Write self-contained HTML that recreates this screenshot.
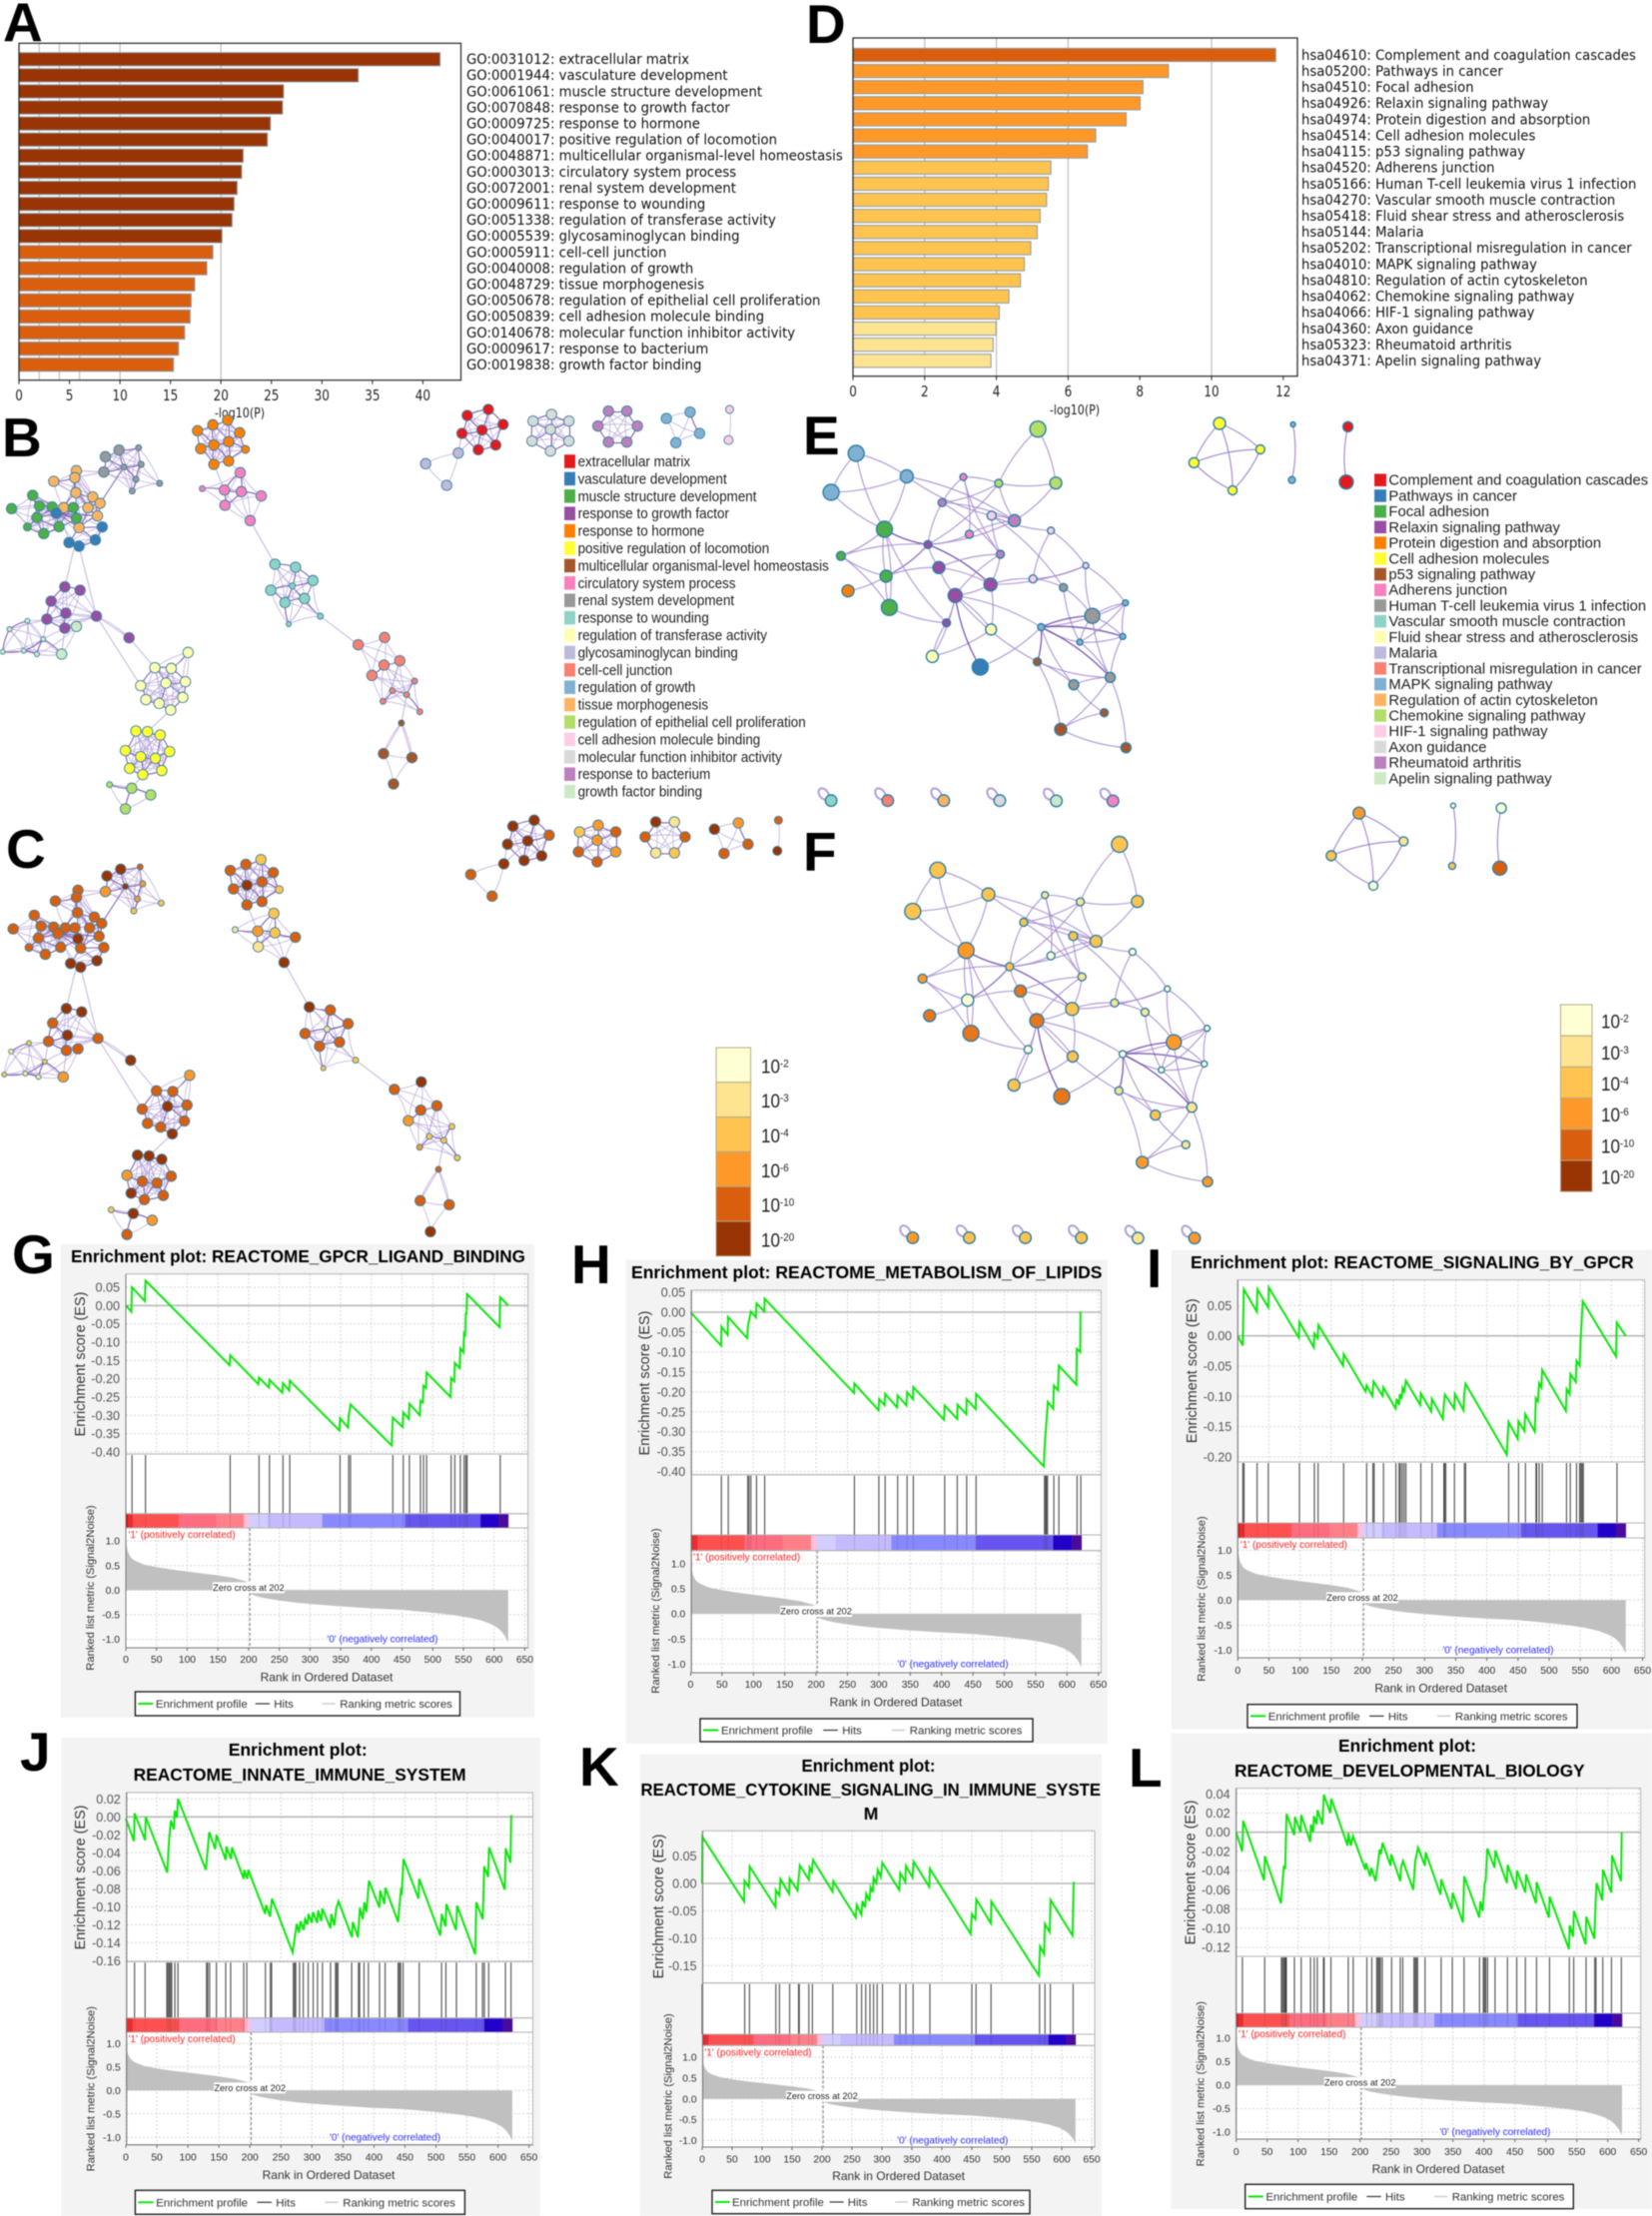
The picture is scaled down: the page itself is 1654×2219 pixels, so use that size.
<!DOCTYPE html>
<html lang="en">
<head>
<meta charset="utf-8">
<title>Enrichment analysis figure</title>
<style>
html,body{margin:0;padding:0;background:#fff;}
svg{display:block;filter:blur(.45px);}
text{font-family:"Liberation Sans",sans-serif;}
.letter{font-size:55px;font-weight:700;fill:#000;}
.gtitle{font-size:17.5px;font-weight:700;fill:#000;}
</style>
</head>
<body>
<svg id="fig" xmlns="http://www.w3.org/2000/svg" width="1654" height="2219" viewBox="0 0 1654 2219">
<rect x="0" y="0" width="1654" height="2219" fill="#fff"/>
<g id="under"></g>
<g id="charts"></g>
<g>
<text class="letter" x="3" y="41">A</text>
<text class="letter" x="807" y="43">D</text>
<text class="letter" x="2" y="457">B</text>
<text class="letter" x="804" y="455">E</text>
<text class="letter" x="6" y="869">C</text>
<text class="letter" x="804" y="872">F</text>
<text class="letter" x="12" y="1275">G</text>
<text class="letter" x="572" y="1285">H</text>
<text class="letter" x="1148" y="1289">I</text>
<text class="letter" x="20" y="1773">J</text>
<text class="letter" x="580" y="1788">K</text>
<text class="letter" x="1130" y="1789">L</text>
</g>
<g>
<text class="gtitle" x="71" y="1264" textLength="455" lengthAdjust="spacingAndGlyphs">Enrichment plot: REACTOME_GPCR_LIGAND_BINDING</text>
<text class="gtitle" x="632" y="1280" textLength="471.5" lengthAdjust="spacingAndGlyphs">Enrichment plot: REACTOME_METABOLISM_OF_LIPIDS</text>
<text class="gtitle" x="1192" y="1270" textLength="443.7" lengthAdjust="spacingAndGlyphs">Enrichment plot: REACTOME_SIGNALING_BY_GPCR</text>
<text class="gtitle" x="228.7" y="1758" textLength="139" lengthAdjust="spacingAndGlyphs">Enrichment plot:</text>
<text class="gtitle" x="133.6" y="1783" textLength="333" lengthAdjust="spacingAndGlyphs">REACTOME_INNATE_IMMUNE_SYSTEM</text>
<text class="gtitle" x="802.5" y="1774" textLength="134" lengthAdjust="spacingAndGlyphs">Enrichment plot:</text>
<text class="gtitle" x="641.5" y="1798" textLength="460.5" lengthAdjust="spacingAndGlyphs">REACTOME_CYTOKINE_SIGNALING_IN_IMMUNE_SYSTE</text>
<text class="gtitle" x="872" y="1822" text-anchor="middle">M</text>
<text class="gtitle" x="1340" y="1754" textLength="138" lengthAdjust="spacingAndGlyphs">Enrichment plot:</text>
<text class="gtitle" x="1236" y="1779" textLength="350.7" lengthAdjust="spacingAndGlyphs">REACTOME_DEVELOPMENTAL_BIOLOGY</text>
</g>
</svg>
<script>
/* ---------- bar chart data ---------- */
const goIds=["GO:0031012","GO:0001944","GO:0061061","GO:0070848","GO:0009725","GO:0040017","GO:0048871","GO:0003013","GO:0072001","GO:0009611","GO:0051338","GO:0005539","GO:0005911","GO:0040008","GO:0048729","GO:0050678","GO:0050839","GO:0140678","GO:0009617","GO:0019838"];
const goTerms=["extracellular matrix","vasculature development","muscle structure development","response to growth factor","response to hormone","positive regulation of locomotion","multicellular organismal-level homeostasis","circulatory system process","renal system development","response to wounding","regulation of transferase activity","glycosaminoglycan binding","cell-cell junction","regulation of growth","tissue morphogenesis","regulation of epithelial cell proliferation","cell adhesion molecule binding","molecular function inhibitor activity","response to bacterium","growth factor binding"];
const goScores=[41.7,33.6,26.2,26.1,24.9,24.6,22.2,22.05,21.6,21.3,21.1,20.1,19.2,18.6,17.4,17.05,16.95,16.4,15.8,15.3];
const goTicks=[0,5,10,15,20,25,30,35,40];
const keggIds=["hsa04610","hsa05200","hsa04510","hsa04926","hsa04974","hsa04514","hsa04115","hsa04520","hsa05166","hsa04270","hsa05418","hsa05144","hsa05202","hsa04010","hsa04810","hsa04062","hsa04066","hsa04360","hsa05323","hsa04371"];
const keggTerms=["Complement and coagulation cascades","Pathways in cancer","Focal adhesion","Relaxin signaling pathway","Protein digestion and absorption","Cell adhesion molecules","p53 signaling pathway","Adherens junction","Human T-cell leukemia virus 1 infection","Vascular smooth muscle contraction","Fluid shear stress and atherosclerosis","Malaria","Transcriptional misregulation in cancer","MAPK signaling pathway","Regulation of actin cytoskeleton","Chemokine signaling pathway","HIF-1 signaling pathway","Axon guidance","Rheumatoid arthritis","Apelin signaling pathway"];
const keggScores=[11.79,8.8,8.09,8.01,7.62,6.77,6.54,5.52,5.45,5.4,5.22,5.14,4.96,4.78,4.67,4.35,4.08,3.99,3.91,3.85];
const keggTicks=[0,2,4,6,8,10,12];
const pThresholds=[2,4,6,10,20];
const scaleLabels=["-2","-3","-4","-6","-10","-20"];

/* ---------- GSEA data: [rank, enrichment score] ---------- */
const esG=[[0,0],[9,-.017],[10,.05],[31,.012],[32,.068],[169,-.163],[170,-.136],[216,-.215],[217,-.197],[233,-.224],[234,-.203],[255,-.238],[256,-.212],[266,-.232],[267,-.205],[348,-.341],[349,-.308],[362,-.333],[363,-.303],[366,-.27],[433,-.382],[435,-.306],[451,-.332],[452,-.292],[461,-.31],[462,-.268],[479,-.30],[480,-.26],[484,-.265],[485,-.219],[489,-.225],[490,-.183],[529,-.25],[530,-.198],[535,-.207],[536,-.157],[544,-.171],[545,-.117],[550,-.128],[551,-.076],[553,-.08],[554,-.02],[555,-.025],[556,.031],[609,-.059],[610,.023],[623,0]];
const hitsG=[10,32,170,217,234,256,267,349,363,366,435,452,462,480,485,490,530,536,545,551,554,556,610];
const esH=[[0,0],[48.5,-.084],[49,-.036],[59,-.057],[59.5,-.012],[90,-.065],[91.5,-.032],[96,.002],[104,-.013],[105,.022],[117.5,.002],[118,.034],[260.5,-.203],[261,-.179],[299.5,-.246],[300.5,-.218],[309,-.233],[310,-.205],[329,-.239],[330,-.209],[344,-.234],[345,-.201],[354.5,-.218],[355,-.188],[404,-.27],[405,-.234],[425,-.268],[425.5,-.232],[439.5,-.256],[440,-.218],[454.5,-.243],[455,-.205],[563,-.387],[564.5,-.332],[567,-.278],[569.5,-.225],[578,-.242],[579,-.184],[585.6,-.196],[587,-.134],[615,-.182],[615.6,-.092],[621,-.1],[621.5,.002]];
const hitsH=[49,60,91,93,96,105,118,261,300,310,330,345,355,405,425,440,455,564,566,567,569,579,587,616,622];
const esI=[[0,0],[8,-.016],[9.6,.077],[30.5,.04],[31.5,.077],[49,.047],[49.7,.08],[98,-.003],[99,.023],[122,-.019],[123,.004],[128.3,-.004],[129.4,.018],[169,-.049],[170,-.03],[205.3,-.092],[207,-.082],[216,-.099],[218,-.075],[232.6,-.099],[233.7,-.085],[253.5,-.12],[255,-.104],[259,-.114],[260.4,-.096],[263,-.104],[264.7,-.086],[267.4,-.092],[270,-.074],[293,-.114],[294,-.095],[310.7,-.125],[311.8,-.104],[329.4,-.137],[331,-.114],[332.6,-.097],[347.6,-.12],[348.7,-.096],[362.6,-.123],[363.6,-.097],[365.8,-.079],[432,-.196],[434.8,-.142],[449.7,-.17],[450.8,-.141],[460.4,-.157],[461.5,-.129],[477,-.158],[478.6,-.103],[482,-.108],[484,-.078],[487.7,-.085],[488.8,-.056],[527,-.124],[528.3,-.088],[533,-.096],[534.2,-.063],[542.8,-.076],[543.9,-.041],[549,-.049],[550.3,-.012],[552,.018],[554,.057],[607.5,-.034],[608.6,.022],[623,0]];
const hitsI=[8,10,31,49,99,123,129,170,207,217,219,234,254,259,261,264,267,270,294,312,331,332,334,348,364,366,435,451,462,479,480,484,489,528,534,544,549,551,553,555,609];
const esJ=[[0,-.002],[13,-.027],[14,.004],[31,-.026],[32,0],[66.6,-.062],[69.6,-.027],[72.7,-.004],[77.5,-.014],[78.7,.007],[82.4,-.001],[84,.02],[129,-.059],[134.5,-.017],[144,-.036],[146,-.02],[161,-.048],[162,-.033],[169.6,-.047],[171,-.034],[190,-.069],[191,-.059],[195.6,-.069],[197.5,-.059],[224.7,-.108],[226,-.098],[232.6,-.111],[235.6,-.091],[269,-.151],[272,-.136],[275.6,-.119],[279,-.129],[281.6,-.116],[286.5,-.126],[289,-.114],[292.6,-.12],[294.4,-.108],[299.8,-.118],[301.6,-.106],[308.3,-.118],[310,-.104],[315,-.116],[316.8,-.102],[330,-.124],[331.3,-.108],[336,-.121],[339,-.103],[342.8,-.094],[364.6,-.134],[365.8,-.117],[374.3,-.134],[377.3,-.101],[382,-.114],[384.6,-.095],[388,-.106],[392,-.071],[408.8,-.101],[410,-.082],[416.7,-.097],[418.5,-.079],[439,-.117],[441,-.099],[443.4,-.082],[445,-.084],[447.6,-.047],[471.8,-.091],[473,-.069],[507,-.132],[509.4,-.108],[515.4,-.122],[516.7,-.097],[532.4,-.126],[534.2,-.099],[563.3,-.153],[565,-.095],[575.4,-.114],[576.6,-.084],[577.8,-.055],[584,-.067],[585.7,-.034],[611,-.081],[612.4,-.035],[620.2,-.051],[621.4,.002]];
const hitsJ=[14,31,66,68,70,72,74,79,84,130,132,135,146,161,169,190,195,225,233,235,270,272,274,280,286,294,302,309,317,330,338,340,342,364,375,377,384,391,409,418,439,441,443,447,473,509,516,533,565,575,578,585,612,621];
const esK=[[0,0],[0.5,.085],[70,-.033],[70.6,.005],[78,-.007],[79.4,.031],[122.5,-.043],[123,-.012],[128.8,-.022],[130.6,.008],[145,-.019],[146,.009],[159.4,-.013],[160.6,.005],[163,.033],[178,.007],[179.4,.029],[183,.021],[185,.043],[217.5,-.015],[218.8,.004],[256.3,-.062],[258,-.039],[265.6,-.057],[267.5,-.032],[271.9,-.044],[273.8,-.019],[279.4,-.032],[281,-.007],[285,-.016],[286,.01],[290.6,.001],[293,.025],[298,.012],[300.6,.038],[328.8,-.012],[330.6,.019],[339,.003],[340,.032],[351,.011],[353,.04],[378.8,-.006],[380,.027],[448,-.092],[450,-.056],[456,-.065],[457.5,-.029],[481.9,-.073],[482.5,-.033],[561.9,-.168],[563.8,-.115],[570.6,-.129],[571.9,-.074],[580,-.089],[581.3,-.03],[618,-.095],[620,.003]];
const hitsK=[0,71,79,123,129,146,161,162,178,184,218,258,266,273,280,286,292,301,330,340,352,380,450,457,482,563,572,581,619];
const esL=[[0,0],[9.7,-.02],[11.3,.012],[45,-.05],[46.3,-.025],[72.2,-.074],[74.9,-.052],[77,-.036],[79.2,-.037],[81.3,.019],[93.7,-.003],[94.8,.016],[104,0],[105,.018],[119.5,-.01],[120.6,.008],[124.4,0],[125.5,.017],[129.8,.008],[131.4,.023],[139,.008],[141.6,.039],[151.9,.02],[153.5,.035],[179.9,-.014],[180.9,-.001],[185.2,-.014],[188.5,-.004],[208.4,-.039],[209.5,-.032],[216.5,-.046],[218,-.037],[225,-.051],[228.9,-.033],[231.6,-.018],[233.7,-.023],[236.4,-.011],[249.3,-.035],[250.4,-.023],[265,-.051],[266,-.038],[269.3,-.03],[286,-.06],[289.2,-.03],[293.5,-.016],[304.8,-.035],[305.9,-.021],[330,-.065],[331.2,-.049],[347.9,-.08],[349.5,-.063],[366.2,-.094],[368.3,-.046],[392.6,-.089],[394.2,-.072],[398,-.082],[401.2,-.054],[403,-.05],[405.5,-.017],[417.3,-.037],[418.4,-.019],[437.3,-.053],[438.3,-.034],[452.3,-.059],[453.4,-.04],[466.9,-.063],[468,-.044],[484,-.074],[485.2,-.052],[505,-.089],[506.2,-.067],[537.4,-.122],[538.5,-.097],[543.9,-.109],[545.5,-.082],[564.3,-.117],[565.4,-.088],[578.4,-.111],[580,-.08],[582,-.053],[591.3,-.071],[592.3,-.039],[605.8,-.063],[606.9,-.024],[621.4,-.051],[622.5,0]];
const hitsL=[10,46,73,75,77,79,80,81,94,105,120,126,131,141,142,153,181,189,211,219,227,229,231,233,236,251,265,269,287,289,291,293,305,331,349,368,393,399,401,403,406,418,438,453,467,485,506,538,545,565,579,581,592,606,622];

const esTicksG=[.05,0,-.05,-.1,-.15,-.2,-.25,-.3,-.35,-.4];
const esTicksH=[.05,0,-.05,-.1,-.15,-.2,-.25,-.3,-.35,-.4];
const esTicksI=[.05,0,-.05,-.1,-.15,-.2];
const esTicksJ=[.02,0,-.02,-.04,-.06,-.08,-.1,-.12,-.14,-.16];
const esTicksK=[.05,0,-.05,-.1,-.15];
const esTicksL=[.04,.02,0,-.02,-.04,-.06,-.08,-.1,-.12];
const rankTicks=[0,50,100,150,200,250,300,350,400,450,500,550,600,650];
const metricTicks=[1,.5,0,-.5,-1];
const metricRanks=[0,1,2,4,7,10,15,20,30,50,75,100,125,150,175,198,203,215,230,250,275,300,350,400,450,500,530,560,580,595,605,612,618,623];
const metricValues=[1.05,.95,.85,.76,.69,.64,.6,.57,.52,.47,.42,.38,.34,.3,.25,.17,-.08,-.13,-.17,-.21,-.25,-.28,-.33,-.37,-.4,-.46,-.5,-.56,-.62,-.69,-.76,-.84,-.94,-1.07];
const barEdges=[0,3,11,86,147,192,201,231,320,455,578,607,623];
const barColors=["#d40a10","#f02a30","#ff5050","#ff6c80","#ff8088","#ffc0dc","#d2ceff","#c4baff","#8888ff","#6655ee","#2200cc","#4a0aa0"];

/* ---------- network layouts (zoom-space layout coordinates, per legend colour) ---------- */
const goColors=["#e41a1c","#377eb8","#4daf4a","#984ea3","#ff7f00","#ffff33","#a65628","#f781bf","#999999","#8dd3c7","#ffffb3","#bebada","#fb8072","#80b1d3","#fdb462","#b3de69","#fccde5","#d9d9d9","#bc80bd","#ccebc5"];
const heatColors=["#ffffd4","#fee391","#fec44f","#fe9929","#d95f0e","#993404"];
const netGroups=[
 {c:8,cls:"5543533222",n:[[226,122],[200,142],[263,115,3],[197,188],[235,173,3],[268,165,3],[258,210,3],[251,245,3],[303,222,3]]},
 {c:14,cls:"4444444444",n:[[145,184],[142,205],[102,216],[144,250],[176,263],[190,282],[121,295],[167,295],[185,320],[150,355]]},
 {c:2,cls:"4444445444",n:[[62,258],[22,298],[75,290],[99,293],[139,295],[70,325],[145,327],[112,352],[52,353,4],[83,373]]},
 {c:1,cls:"44555",n:[[107,312],[194,353],[181,392],[131,400],[150,411]]},
 {c:3,cls:"55454445",n:[[123,533],[152,543],[97,576],[125,612],[183,621],[89,630],[123,657],[245,686]]},
 {c:19,cls:"43122112",n:[[145,652],[117,735],[18,660,2.5],[52,635,2.5],[5,728,2.5],[45,725,2.5],[70,735,2.5],[82,690,2.5]]},
 {c:10,cls:"3444544445",n:[[357,730],[294,776],[325,778],[267,830],[315,822],[352,818],[347,865],[277,872],[302,883],[324,903]]},
 {c:5,cls:"5553444544",n:[[258,966],[280,968],[304,978],[238,1025],[322,1028],[267,1043],[295,1048],[246,1078],[307,1085],[271,1097]]},
 {c:15,cls:"2534",n:[[208,1127,3],[250,1138],[286,1158],[238,1200]]},
 {c:4,cls:"4244454244",n:[[404,46],[432,32],[375,64],[455,70],[434,97],[406,107],[381,118],[466,120,4],[406,165],[434,155]]},
 {c:7,cls:"2324511",n:[[456,190],[426,242],[458,247],[496,260],[475,334],[427,288],[384,238,3]]},
 {c:9,cls:"544444221",n:[[522,465],[561,474],[594,514],[514,543],[578,568],[541,580],[548,645,2.5],[608,621,3],[555,530,3]]},
 {c:12,cls:"4544322322",n:[[680,707],[730,685],[759,755],[729,768],[706,799],[787,816,3],[772,857,3],[727,877,3],[797,908,3],[745,845,3]]},
 {c:6,cls:"4445",n:[[762,942,3],[728,1034],[782,1046],[747,1125]]},
 {c:0,cls:"5545555",n:[[887,18],[927,0],[955,45],[877,72],[915,62],[941,107],[908,121]]},
 {c:11,cls:"544",n:[[870,131],[808,163],[848,228]]},
 {c:17,cls:"2334434",n:[[1012,35],[1047,15],[1045,60],[1080,35],[1010,95],[1080,95],[1045,125]]},
 {c:18,cls:"514412",n:[[1155,5],[1190,5],[1135,50],[1210,50],[1155,98],[1190,98]]},
 {c:13,cls:"5344",n:[[1265,27],[1310,8],[1328,72],[1283,100]]},
 {c:16,cls:"45",n:[[1385,0,4],[1383,92,4.5]]}
];
const netBridges=[[[190,282],[235,173]],[[145,327],[150,355]],[[139,295],[145,327]],[[121,295],[107,312]],[[107,312],[185,320]],[[107,312],[150,355]],[[150,355],[131,400]],[[150,355],[194,353]],[[150,355],[181,392]],[[107,312],[145,327]],[[70,325],[107,312]],[[144,250],[145,327]],[[140,420],[123,533]],[[150,411],[183,621]],[[183,621],[245,686]],[[245,686],[294,776]],[[183,621],[267,830]],[[324,903],[280,968]],[[271,1097],[250,1138]],[[406,165],[426,242]],[[434,155],[456,190]],[[475,334],[522,465]],[[608,621],[680,707]],[[772,857],[762,942]],[[762,942],[728,1034]],[[762,942],[782,1046]],[[89,630],[18,660]],[[89,630],[82,690]],[[123,657],[117,735]],[[125,612],[183,621]],[[183,621],[123,657]],[[197,188],[142,205]],[[145,184],[197,188]],[[870,131],[915,62]],[[870,131],[877,72]]];

const keggNodes=[[105,132,13,8],[198,201,13,6.5],[59,249,13,8],[439,59,15,8],[472,221,15,6],[367,222,15,4],[302,203,7,3.5],[263,280,18,4],[396,334,18,6],[354,319,16,4.5],[313,375,7,4],[463,364,16,3.5],[157,360,2,8],[77,440,2,4.5],[160,501,2,6],[166,595,2,8],[237,406,3,4],[370,435,18,4],[257,475,3,6],[352,526,3,6.5],[287,559,3,7],[271,641,3,4],[430,509,16,4],[527,469,16,3],[486,535,8,4],[90,545,4,6],[353,661,10,5.5],[245,742,10,6],[333,774,1,8],[445,654,13,3.5],[539,620,8,7.5],[600,581,13,3],[516,699,13,3],[595,682,13,3],[438,758,6,4],[505,827,8,5],[572,805,8,5],[561,911,6,4],[481,961,6,6],[601,1016,6,5]];
const keggHeatF=[2,2,2,2,2,1,1,2,2,2,0,0,3,3,0,4,2,1,4,2,4,0,1,0,1,4,2,2,4,0,3,0,0,0,1,2,1,1,3,3];
const keggEdges=[[0,1],[0,2],[1,2],[0,12],[1,12],[2,12],[1,8],[1,9],[3,4],[3,5],[4,5],[5,6],[5,7],[5,8],[4,8],[6,7],[6,10],[6,17],[7,8],[7,16],[7,17],[8,9],[8,16],[9,11],[10,16],[8,10],[5,16],[9,17],[16,12],[16,13],[16,14],[16,18],[16,19],[17,18],[18,19],[17,20],[17,19],[18,20],[20,21],[20,19],[12,13],[12,14],[12,15],[13,14],[13,15],[14,15],[14,25],[14,16],[14,18],[12,21],[21,15],[21,27],[26,27],[26,20],[19,26],[27,20],[20,29],[22,23],[19,22],[19,23],[22,24],[24,9],[11,23],[11,22],[23,31],[23,30],[24,30],[24,32],[29,30],[29,31],[29,33],[29,32],[30,31],[30,32],[30,33],[31,33],[31,32],[32,33],[29,34],[29,35],[29,36],[30,36],[32,36],[33,36],[34,35],[34,36],[35,36],[35,37],[34,38],[37,38],[36,38],[38,39],[36,39],[28,29],[28,20],[20,34]];
const keggExtraNodes=[[773,42,5,6,3],[848,120,5,4.5,1],[726,160,5,5,2],[797,243,5,4.5,0],[908,45,13,2.5,0],[906,212,13,3.5,2],[1009,52,0,5,0],[1006,218,0,7,4]];
const keggExtraEdges=[[0,1],[0,2],[0,3],[1,2],[1,3],[2,3],[4,5],[6,7]];
const keggLoops=[[59,1175,9,3],[163,1175,12,2],[266,1175,14,2],[369,1175,17,2],[473,1176,19,1],[577,1176,7,3]];

/* ---------- helpers ---------- */
const NS="http://www.w3.org/2000/svg";
const root=document.getElementById('charts');
function el(parent,tag,attrs,txt){
  const e=document.createElementNS(NS,tag);
  for(const k in attrs)e.setAttribute(k,attrs[k]);
  if(txt!==undefined)e.textContent=txt;
  parent.appendChild(e);
  return e;
}
function binColor(v){
  return v>=20?heatColors[5]:v>=10?heatColors[4]:v>=6?heatColors[3]:v>=4?heatColors[2]:v>=3?heatColors[1]:heatColors[0];
}
function fmt2(v){return (v===0?"0.00":v.toFixed(2));}

/* ---------- panels A & D ---------- */
function drawBars(key,ids,terms,scores,ticks,L){
  const g=el(root,'g',{});
  
  
  const x=v=>L.x0+v*L.k;
  const y=i=>L.y0+i*L.step;
  const plot=el(g,'rect',{x:L.x0,y:L.top,width:L.x1-L.x0,height:L.bottom-L.top,fill:'#fff'});
  
  
  pThresholds.forEach(t=>{
    if(x(t)>L.x1)return;
    const gl=el(g,'line',{x1:x(t),x2:x(t),y1:L.top,y2:L.bottom,stroke:'#bdbdbd','stroke-width':1.2});
    
    
  });
  scores.forEach((v,i)=>{
    const b=el(g,'rect',{x:x(0),y:y(i)-6.6,width:x(v)-x(0),height:13.2,fill:binColor(v),stroke:'#8a9aa8','stroke-width':1});
    
    
    const t=el(g,'text',{transform:`translate(${L.labelX},${y(i)+4.8}) scale(${L.labelScale},1)`,'font-size':14,style:'font-family:"DejaVu Sans",sans-serif',fill:'#111'},ids[i]+': '+terms[i]);
    
    
  });
  const fr=el(g,'rect',{x:L.x0,y:L.top,width:L.x1-L.x0,height:L.bottom-L.top,fill:'none',stroke:'#222','stroke-width':1.2});
  
  
  ticks.forEach(v=>{
    const m=el(g,'line',{x1:x(v),x2:x(v),y1:L.bottom,y2:L.bottom+4,stroke:'#222'});
    
    
    const t=el(g,'text',{transform:`translate(${x(v)},${L.tickY}) scale(.8,1)`,'text-anchor':'middle','font-size':15,style:'font-family:"DejaVu Sans",sans-serif',fill:'#222'},String(v));
    
    
  });
  const xl=el(g,'text',{transform:`translate(${L.titleX},${L.titleY}) scale(.82,1)`,'text-anchor':'middle','font-size':13.5,style:'font-family:"DejaVu Sans",sans-serif',fill:'#222'},'-log10(P)');
  
  
}
drawBars('go',goIds,goTerms,goScores,goTicks,{x0:19,x1:461.5,top:43.3,bottom:380.7,k:10.11,y0:59.3,step:16.1,labelX:467,labelScale:.948,tickY:401,titleX:240,titleY:418});
drawBars('kegg',keggIds,keggTerms,keggScores,keggTicks,{x0:854,x1:1299,top:38,bottom:376.7,k:35.9,y0:55,step:16.12,labelX:1303,labelScale:.945,tickY:397,titleX:1076,titleY:415});

/* ---------- category legends ---------- */
function drawLegend(key,terms,L){
  const g=el(root,'g',{});
  
  
  terms.forEach((t,i)=>{
    const y=L.y0+i*L.step;
    const s=el(g,'rect',{x:L.sx,y:y-L.sh/2,width:L.sw,height:L.sh,fill:goColors[i]});
    
    
    const x=el(g,'text',{transform:`translate(${L.tx},${y+5}) scale(${L.scale},1)`,'font-size':15,fill:'#222'},t);
    
    
  });
}
drawLegend('go',goTerms,{sx:565,sw:11,sh:13.5,tx:578.6,y0:462,step:17.4,scale:.895});
drawLegend('kegg',keggTerms,{sx:1376,sw:12,sh:12.5,tx:1390.4,y0:480.7,step:15.72,scale:.99});

/* ---------- colour scale legends ---------- */
function drawScale(key,L){
  const g=el(root,'g',{});
  
  
  heatColors.forEach((c,i)=>{
    const r=el(g,'rect',{x:L.x,y:L.y+i*L.h,width:L.w,height:L.h,fill:c,stroke:'#b5a98a','stroke-width':1});
    
    
    const t=el(g,'text',{transform:`translate(${L.tx},${L.y+i*L.h+L.h/2+8}) scale(.9,1)`,'font-size':19,fill:'#222'});
    
    
    el(t,'tspan',{},'10');
    el(t,'tspan',{dy:-6,'font-size':11},scaleLabels[i]);
  });
}
drawScale('go',{x:717,y:1049,w:34.6,h:34.8,tx:762});
drawScale('kegg',{x:1562.5,y:1006,w:31.5,h:31.2,tx:1603});

/* ---------- networks ---------- */
function edgePath(a,b,i){
  const mx=(a[0]+b[0])/2,my=(a[1]+b[1])/2,dx=b[0]-a[0],dy=b[1]-a[1];
  const s=(i%2?1:-1)*0.1;
  return `M${a[0]} ${a[1]}Q${mx-dy*s} ${my+dx*s} ${b[0]} ${b[1]}`;
}
function drawGoNetwork(key,mapPt,colorOf){
  const g=el(root,'g',{});
  
  
  let idx=0;
  netGroups.forEach(gr=>{
    for(let i=0;i<gr.n.length;i++)for(let j=i+1;j<gr.n.length;j++){
      const a=mapPt(gr.n[i]),b=mapPt(gr.n[j]);
      const d=Math.hypot(a[0]-b[0],a[1]-b[1]);
      if(d<50){
        const e=el(g,'path',{d:edgePath(a,b,idx++),fill:'none',stroke:d<24?'#6c46a8':'#b8a6da','stroke-width':d<24?1.2:.9,'stroke-opacity':.8});
        
        
      }
    }
  });
  netBridges.forEach((p,i)=>{
    const e=el(g,'line',{x1:mapPt(p[0])[0],y1:mapPt(p[0])[1],x2:mapPt(p[1])[0],y2:mapPt(p[1])[1],stroke:i<12?'#6c46a8':'#b8a6da','stroke-width':1,'stroke-opacity':.85});
    
    
  });
  netGroups.forEach(gr=>{
    gr.n.forEach((n,i)=>{
      const p=mapPt(n);
      const c=el(g,'circle',{cx:p[0],cy:p[1],r:n[2]||5.2,fill:colorOf(gr,i),stroke:'#3d7f9f','stroke-width':.9});
      
      
    });
  });
}
const mapB=p=>[p[0]/1.896,410+p[1]/3];
const mapC=p=>{
  let x,y;
  if(p[0]<370){x=p[0]+3;y=p[1]*1.018+27;}
  else if(p[0]<=800){x=p[0]*1.0215+54;y=p[1]*1.0226+89.6;}
  else{x=p[0]*1.012+76;y=p[1]+4;}
  return [x/1.896,820+y/3];
};
drawGoNetwork('go-cluster',mapB,(gr)=>goColors[gr.c]);
drawGoNetwork('go-pvalue',mapC,(gr,i)=>heatColors[+gr.cls[i%gr.cls.length]]);

function drawKeggNetwork(key,mapPt,colorOf,colorExtra,colorLoop){
  const g=el(root,'g',{});
  
  
  keggEdges.forEach((e,i)=>{
    const a=mapPt(keggNodes[e[0]]),b=mapPt(keggNodes[e[1]]);
    const dark=(e[0]===16||e[0]===29||e[1]===20)&&i%2===0;
    const p=el(g,'path',{d:edgePath(a,b,i),fill:'none',stroke:dark?'#6c46a8':'#a48cce','stroke-width':dark?1.4:1.2,'stroke-opacity':.85});
    
    
  });
  keggExtraEdges.forEach((e,i)=>{
    const a=mapPt(keggExtraNodes[e[0]]),b=mapPt(keggExtraNodes[e[1]]);
    const p=el(g,'path',{d:edgePath(a,b,i),fill:'none',stroke:'#a48cce','stroke-width':1.2});
    
    
  });
  keggNodes.forEach((n,i)=>{
    const p=mapPt(n);
    const c=el(g,'circle',{cx:p[0],cy:p[1],r:n[3],fill:colorOf(n,i),stroke:'#2f7ea8','stroke-width':1.4});
    
    
  });
  keggExtraNodes.forEach((n)=>{
    const p=mapPt(n);
    const c=el(g,'circle',{cx:p[0],cy:p[1],r:n[3],fill:colorExtra(n),stroke:'#2f7ea8','stroke-width':1.4});
    
    
  });
  keggLoops.forEach((n)=>{
    const p=mapPt(n);
    const l=el(g,'path',{d:`M${p[0]-2} ${p[1]-5}C${p[0]-5} ${p[1]-15} ${p[0]-15} ${p[1]-14} ${p[0]-12} ${p[1]-6}C${p[0]-11} ${p[1]-3} ${p[0]-8} ${p[1]-1} ${p[0]-5} ${p[1]-1}`,fill:'none',stroke:'#b29fd6','stroke-width':2});
    
    
    const c=el(g,'circle',{cx:p[0],cy:p[1],r:5.8,fill:colorLoop(n),stroke:'#2f7ea8','stroke-width':1.4});
    
    
  });
}
const mapE=p=>[800+p[0]/1.836,410+p[1]/3];
const mapF=p=>{
  let x,y;
  if(p[0]<700){x=p[0]+150;y=p[1]*1.059+104;}
  else if(p[0]<900){x=p[0]*1.09+187;y=p[1]*1.085+27;}
  else{x=p[0]*.876+407;y=p[1]*1.087+1;}
  return [800+x/1.836,790+y/3];
};
drawKeggNetwork('kegg-cluster',mapE,n=>goColors[n[2]],n=>goColors[n[2]],n=>goColors[n[2]]);
drawKeggNetwork('kegg-pvalue',mapF,(n,i)=>keggHeatF[i]===4?'#e8761a':heatColors[keggHeatF[i]],n=>n[4]===4?'#d95f0e':heatColors[n[4]],n=>heatColors[n[3]]);

/* ---------- GSEA panels ---------- */
function drawGsea(key,es,hits,esTicks,metricLabels,L){
  const under=document.getElementById('under');
  const bg=el(under,'rect',{x:L.bg[0],y:L.bg[1],width:L.bg[2]-L.bg[0],height:L.bg[3]-L.bg[1],fill:'#f3f3f3'});
  
  
  const g=el(root,'g',{});
  
  
  const x=r=>L.xZero+r*L.xPer;
  const yE=v=>L.es0-v*L.esK;
  const yM=v=>L.m0-v*L.mK;
  const pl=el(g,'rect',{x:L.x0,y:L.top,width:L.x1-L.x0,height:L.bottom-L.top,fill:'#fff'});
  
  
  rankTicks.forEach(r=>{
    [[L.top,L.esBottom],[L.barBottom,L.bottom]].forEach(span=>{
      const gl=el(g,'line',{x1:x(r),x2:x(r),y1:span[0],y2:span[1],stroke:'#d4d4d4','stroke-width':1,'stroke-dasharray':'2 2'});
      
      
    });
    const m=el(g,'line',{x1:x(r),x2:x(r),y1:L.bottom,y2:L.bottom+3,stroke:'#666'});
    
    
    const t=el(g,'text',{x:x(r),y:L.tickY+3.5,'text-anchor':'middle','font-size':10.3,fill:'#333'},String(r));
    
    
  });
  esTicks.forEach(v=>{
    const gl=el(g,'line',{x1:L.x0,x2:L.x1,y1:yE(v),y2:yE(v),stroke:v===0?'#b8b8b8':'#d4d4d4','stroke-width':v===0?1.6:1,'stroke-dasharray':v===0?'none':'2 2'});
    
    
    const t=el(g,'text',{x:L.x0-6,y:yE(v)+4.5,'text-anchor':'end','font-size':12.6,fill:'#555'},fmt2(v));
    
    
  });
  metricLabels.forEach(v=>{
    const gl=el(g,'line',{x1:L.x0,x2:L.x1,y1:yM(v),y2:yM(v),stroke:'#d4d4d4','stroke-width':1,'stroke-dasharray':'2 2'});
    
    
    const t=el(g,'text',{x:L.x0-6,y:yM(v)+3.6,'text-anchor':'end','font-size':10.3,fill:'#333'},v.toFixed(1));
    
    
  });
  /* ES curve */
  const esLine=el(g,'polyline',{points:es.map(p=>x(p[0]).toFixed(1)+','+yE(p[1]).toFixed(1)).join(' '),fill:'none',stroke:'#0de60d','stroke-width':2,'stroke-linejoin':'miter'});
  
  
  /* colour bar */
  barColors.forEach((c,i)=>{
    const r=el(g,'rect',{x:x(barEdges[i]),y:L.barTop,width:x(barEdges[i+1])-x(barEdges[i])+.3,height:L.barBottom-L.barTop,fill:c});
    
    
  });
  /* hits */
  hits.forEach(h=>{
    const l=el(g,'line',{x1:x(h),x2:x(h),y1:L.esBottom+1,y2:L.barTop,stroke:'#2a2a2a','stroke-width':1.1,'stroke-opacity':.85});
    
    
    const o=el(g,'line',{x1:x(h),x2:x(h),y1:L.barTop,y2:L.barBottom,stroke:'#333','stroke-width':1,'stroke-opacity':.16});
    
    
  });
  /* ranked metric */
  const posIdx=metricValues.map((v,i)=>v>0?i:-1).filter(i=>i>=0);
  const negIdx=metricValues.map((v,i)=>v<0?i:-1).filter(i=>i>=0);
  [posIdx,negIdx].forEach(ids=>{
    const pts=ids.map(i=>x(metricRanks[i]).toFixed(1)+','+yM(metricValues[i]).toFixed(1));
    const a=x(metricRanks[ids[0]]).toFixed(1),b=x(metricRanks[ids[ids.length-1]]).toFixed(1);
    const area=el(g,'polygon',{points:a+','+yM(0)+' '+pts.join(' ')+' '+b+','+yM(0),fill:'#c0c0c0'});
    
    
  });
  const zc=el(g,'line',{x1:x(202),x2:x(202),y1:L.barBottom,y2:L.bottom,stroke:'#777','stroke-dasharray':'3 2','stroke-width':1});
  
  
  const zr=el(g,'rect',{x:x(200)-36,y:yM(0)-8,width:72,height:11,fill:'#fff'});
  
  
  const zt=el(g,'text',{x:x(200),y:yM(0)+0.5,'text-anchor':'middle','font-size':9.2,fill:'#222'},'Zero cross at 202');
  
  
  const pos=el(g,'text',{x:x(4),y:L.barBottom+10,'font-size':10,fill:'#f22'},"'1' (positively correlated)");
  
  
  const neg=el(g,'text',{x:x(418),y:yM(-1)+3,'text-anchor':'middle','font-size':10,fill:'#33f'},"'0' (negatively correlated)");
  
  
  /* frame */
  [[L.top,L.esBottom],[L.esBottom,L.barTop],[L.barTop,L.barBottom],[L.barBottom,L.bottom]].forEach(s=>{
    const f=el(g,'rect',{x:L.x0,y:s[0],width:L.x1-L.x0,height:s[1]-s[0],fill:'none',stroke:'#b4b4b4','stroke-width':1});
    
    
  });
  const la=el(g,'line',{x1:L.x0,x2:L.x0,y1:L.top,y2:L.bottom,stroke:'#777'});
  
  
  const lb=el(g,'line',{x1:L.x0,x2:L.x1,y1:L.bottom,y2:L.bottom,stroke:'#777'});
  
  
  /* axis titles */
  const rk=el(g,'text',{x:L.labelX,y:L.labelY+4.5,'text-anchor':'middle','font-size':12,fill:'#333'},'Rank in Ordered Dataset');
  
  
  const et=el(g,'text',{transform:`translate(${L.esT[0]+5},${L.esT[1]}) rotate(-90)`,'text-anchor':'middle','font-size':14.4,fill:'#333'},'Enrichment score (ES)');
  
  
  const mt=el(g,'text',{transform:`translate(${L.mT[0]+4},${L.mT[1]}) rotate(-90)`,'text-anchor':'middle','font-size':11.2,fill:'#333'},'Ranked list metric (Signal2Noise)');
  
  
  /* legend */
  const [a,b,c,d]=L.legend;
  const W=c-a,my=(b+d)/2;
  const lg=el(g,'g',{});
  
  
  const box=el(lg,'rect',{x:a,y:b,width:W,height:d-b,fill:'#fff',stroke:'#111','stroke-width':1.3});
  
  
  const l1=el(lg,'line',{x1:a+W*.009,x2:a+W*.055,y1:my,y2:my,stroke:'#0de60d','stroke-width':2});
  
  
  const t1=el(lg,'text',{x:a+W*.063,y:my+4,'font-size':11.4,fill:'#333'},'Enrichment profile');
  
  
  const l2=el(lg,'line',{x1:a+W*.37,x2:a+W*.414,y1:my,y2:my,stroke:'#333','stroke-width':1.2});
  
  
  const t2=el(lg,'text',{x:a+W*.427,y:my+4,'font-size':11.4,fill:'#333'},'Hits');
  
  
  const l3=el(lg,'line',{x1:a+W*.576,x2:a+W*.616,y1:my,y2:my,stroke:'#ccc','stroke-width':1.5});
  
  
  const t3=el(lg,'text',{x:a+W*.63,y:my+4,'font-size':11.4,fill:'#333'},'Ranking metric scores');
  
  
}
drawGsea('g',esG,hitsG,esTicksG,metricTicks,{bg:[61,1246,535,1720],x0:126,x1:528.6,top:1275.7,esBottom:1456,barTop:1515.7,barBottom:1530,bottom:1650,xZero:126,xPer:.6145,es0:1307.3,esK:366.7,m0:1592.3,mK:49.2,tickY:1661.7,labelY:1679,labelX:327,esT:[80,1366],mT:[90,1590],legend:[135.4,1694,460.5,1718]});
drawGsea('h',esH,hitsH,esTicksH,metricTicks,{bg:[626.4,1261.7,1109,1746],x0:692.3,x1:1102.4,top:1292,esBottom:1476.7,barTop:1537,barBottom:1552.7,bottom:1675,xZero:691.5,xPer:.628,es0:1314,esK:399,m0:1616,mK:50.3,tickY:1686.7,labelY:1704,labelX:897,esT:[645,1385],mT:[656,1613],legend:[701,1721,1034,1744]});
drawGsea('i',esI,hitsI,esTicksI,metricTicks,{bg:[1173,1251.7,1654,1731.7],x0:1239.3,x1:1646.7,top:1281.7,esBottom:1464,barTop:1525,barBottom:1540,bottom:1660,xZero:1239.3,xPer:.6234,es0:1337.7,esK:606.7,m0:1602.3,mK:50,tickY:1672.7,labelY:1690,labelX:1442.7,esT:[1193,1372.7],mT:[1202.7,1601],legend:[1249,1706.7,1579,1730]});
drawGsea('j',esJ,hitsJ,esTicksJ,metricTicks,{bg:[61.3,1740,540.6,2219],x0:126.8,x1:533.5,top:1795,esBottom:1964.3,barTop:2020.7,barBottom:2035,bottom:2147.7,xZero:126,xPer:.621,es0:1819.3,esK:900,m0:2093.3,mK:47,tickY:2160,labelY:2177.3,labelX:329,esT:[80,1880],mT:[90.3,2091.7],legend:[135.4,2193.3,465.4,2217.3]});
drawGsea('k',esK,hitsK,esTicksK,metricTicks,{bg:[640.7,1756.7,1103,2219],x0:703.6,x1:1096,top:1833.3,esBottom:1985.7,barTop:2037,barBottom:2048.3,bottom:2150,xZero:703,xPer:.6,es0:1886,esK:548.6,m0:2101.7,mK:41.7,tickY:2162,labelY:2178.7,labelX:899.6,esT:[659,1909],mT:[668.6,2099],legend:[713,2193.3,1031,2216.7]});
drawGsea('l',esL,hitsL,esTicksL,metricTicks,{bg:[1172.3,1735.7,1654,2212],x0:1237.7,x1:1642.7,top:1790.7,esBottom:1959,barTop:2016,barBottom:2030,bottom:2142,xZero:1237.7,xPer:.62,es0:1834.7,esK:961,m0:2088,mK:47,tickY:2154.3,labelY:2171.7,labelX:1440,esT:[1191.7,1875],mT:[1201.7,2086.7],legend:[1246.7,2187.3,1575.3,2211.7]});
</script>
</body>
</html>
